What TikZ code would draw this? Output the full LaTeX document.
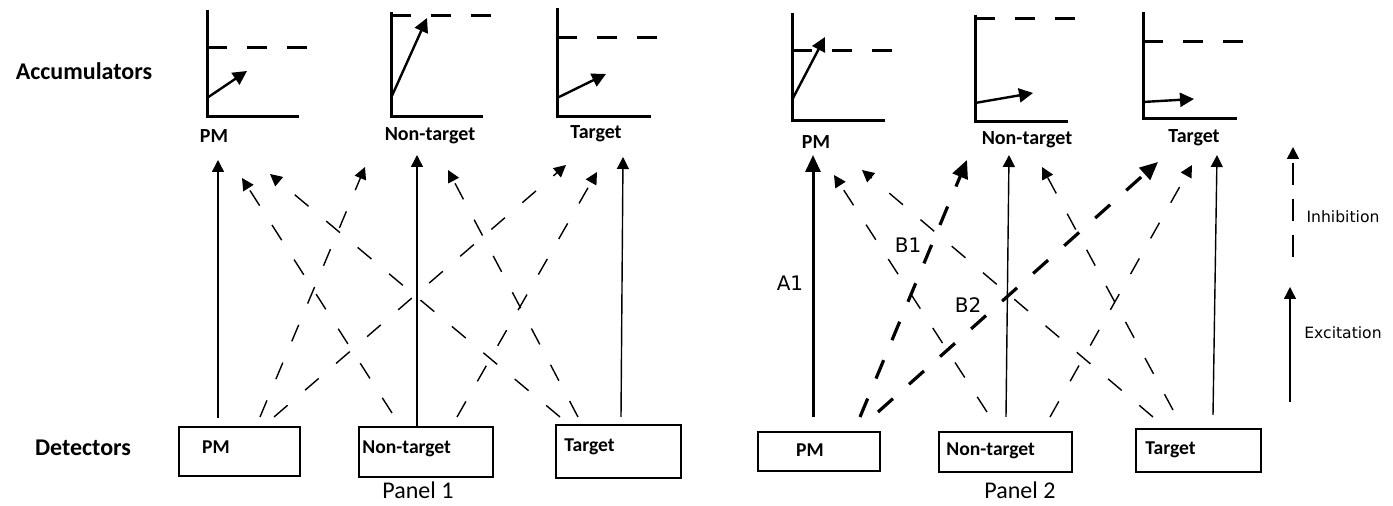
\documentclass[tikz,border=0pt]{standalone}
\usepackage{fontspec}
\setmainfont{Carlito}
\newfontfamily\labelfont{DejaVu Sans}
\usetikzlibrary{arrows.meta}

% one accumulator chart: axis x, axis top, axis bottom, axis right end,
% threshold y, threshold right end, growth start y, growth end x, growth end y
\newcommand\accumchart[9]{%
  \draw[axisline] (#1,#2) -- (#1,#3) -- (#4,#3);
  \draw[threshold] (#1,#5) -- (#6,#5);
  \draw[growth] (#1,#7) -- (#8,#9);
}

\begin{document}
\begin{tikzpicture}[x=0.5pt,y=-0.5pt,
  axisline/.style={line width=1.5pt, line join=miter},
  threshold/.style={line width=1.5pt, dash pattern=on 10pt off 10pt},
  growth/.style={line width=1.2pt, -{Triangle[length=7pt,width=7pt]}},
  excite/.style={line width=0.7pt, -{Triangle[length=6pt,width=6pt]}},
  inhibit/.style={excite, dash pattern=on 9pt off 11.5pt},
  exciteB/.style={line width=1.5pt, -{Triangle[length=8.5pt,width=7.5pt]}},
  inhibitB/.style={line width=1.6pt, dash pattern=on 10pt off 10.8pt, -{Triangle[length=9pt,width=8pt]}},
  keydash/.style={line width=0.8pt, dash pattern=on 11pt off 7pt, -{Triangle[length=6pt,width=6pt]}},
  detector/.style={draw, line width=0.8pt, inner sep=0pt},
  dettext/.style={font=\bfseries\fontsize{9.8}{11}\selectfont, inner sep=0pt},
  acclabel/.style={font=\bfseries\fontsize{10}{12}\selectfont, inner sep=0pt},
  rowlabel/.style={font=\bfseries\fontsize{12}{14}\selectfont, inner sep=0pt},
  panellabel/.style={font=\fontsize{12}{14}\selectfont, inner sep=0pt},
  pathlabel/.style={font=\labelfont\fontsize{10}{12}\selectfont, inner sep=0pt},
  keylabel/.style={font=\labelfont\fontsize{7.8}{9}\selectfont, inner sep=0pt},
]
\useasboundingbox (0,0) rectangle (1393,506);

% row titles
\node[rowlabel] (accrow) at (84,71) {Accumulators};
\node[rowlabel] (detrow) at (83,448) {Detectors};

% ---------------- accumulators ----------------
\accumchart{207}{10}{117}{299}{48}{307}{98}{247}{71}
\accumchart{391}{12}{117}{483}{16}{492}{98}{427}{18}
\accumchart{557}{8}{117}{651}{38}{659}{98}{606}{74}
\accumchart{792}{13}{121}{885}{51}{893}{100}{825}{37}
\accumchart{975}{15}{122}{1068}{19}{1077}{103}{1033}{93}
\accumchart{1143}{12}{119}{1237}{42}{1245}{102}{1194}{99}

\node[acclabel, anchor=mid] (acc1pm) at (214,138) {PM};
\node[acclabel, anchor=mid] (acc1nt) at (430,136) {Non-target};
\node[acclabel, anchor=mid] (acc1t)  at (596,134) {Target};
\node[acclabel, anchor=mid] (acc2pm) at (816,144) {PM};
\node[acclabel, anchor=mid] (acc2nt) at (1027,140) {Non-target};
\node[acclabel, anchor=mid] (acc2t)  at (1194,138) {Target};

% ---------------- detectors ----------------
\node[detector, minimum width=60.5pt, minimum height=24.5pt] (det1pm) at (239.5,451.5) {};
\node[detector, minimum width=67pt,   minimum height=25pt]   (det1nt) at (426,452) {};
\node[detector, minimum width=62.5pt, minimum height=26.5pt] (det1t)  at (618.5,451.5) {};
\node[detector, line width=1pt, minimum width=61pt,   minimum height=19.5pt] (det2pm) at (819,451.5) {};
\node[detector, line width=1pt, minimum width=66.5pt, minimum height=20pt]   (det2nt) at (1005.5,452) {};
\node[detector, line width=1pt, minimum width=62.5pt, minimum height=21.5pt] (det2t)  at (1198.5,450.5) {};

\node[dettext, anchor=mid] at (216,449) {PM};
\node[dettext, anchor=mid west] at (362,449) {Non-target};
\node[dettext, anchor=mid west] at (564,447) {Target};
\node[dettext, anchor=mid] at (810,452) {PM};
\node[dettext, anchor=mid west] at (946,451) {Non-target};
\node[dettext, anchor=mid west] at (1145,450) {Target};

\node[panellabel] (panel1) at (418,490) {Panel 1};
\node[panellabel] (panel2) at (1020,490) {Panel 2};

% ---------------- panel 1 connections ----------------
\coordinate (s1pmA) at (218,418);  \coordinate (e1pmA) at (218,160);
\coordinate (s1pmB) at (260,417);  \coordinate (e1ntB) at (365,167);
\coordinate (s1pmC) at (274,417);  \coordinate (e1tB)  at (566,165);
\coordinate (s1ntB) at (392,413);  \coordinate (e1pmB) at (242,178);
\coordinate (s1ntA) at (417,427);  \coordinate (e1ntA) at (417,155);
\coordinate (s1ntC) at (457,417);  \coordinate (e1tC)  at (597,172);
\coordinate (s1tB)  at (560,417);  \coordinate (e1pmC) at (270,174);
\coordinate (s1tC)  at (578,417);  \coordinate (e1ntC) at (448,170);
\coordinate (s1tA)  at (621,417);  \coordinate (e1tA)  at (623,157);

\draw[excite]  (s1pmA) -- (e1pmA);
\draw[inhibit] (s1pmB) -- (e1ntB);
\draw[inhibit] (s1pmC) -- (e1tB);
\draw[inhibit] (s1ntB) -- (e1pmB);
\draw[excite]  (s1ntA) -- (e1ntA);
\draw[inhibit] (s1ntC) -- (e1tC);
\draw[inhibit] (s1tB)  -- (e1pmC);
\draw[inhibit] (s1tC)  -- (e1ntC);
\draw[excite]  (s1tA)  -- (e1tA);

% ---------------- panel 2 connections ----------------
\coordinate (s2pmA) at (813,417);  \coordinate (e2pmA) at (813,155);
\coordinate (s2pmB) at (860,417);  \coordinate (e2ntB) at (967,160);
\coordinate (s2pmC) at (878,412);  \coordinate (e2tB)  at (1158,162);
\coordinate (s2ntB) at (987,412);  \coordinate (e2pmB) at (834,175);
\coordinate (s2ntA) at (1006,417); \coordinate (e2ntA) at (1009,155);
\coordinate (s2ntC) at (1050,417); \coordinate (e2tC)  at (1192,165);
\coordinate (s2tB)  at (1153,417); \coordinate (e2pmC) at (862,170);
\coordinate (s2tC)  at (1173,410); \coordinate (e2ntC) at (1042,167);
\coordinate (s2tA)  at (1213,415); \coordinate (e2tA)  at (1217,155);

\draw[exciteB]  (s2pmA) -- (e2pmA);
\draw[inhibitB] (s2pmB) -- (e2ntB);
\draw[inhibitB] (s2pmC) -- (e2tB);
\draw[inhibit]  (s2ntB) -- (e2pmB);
\draw[excite]   (s2ntA) -- (e2ntA);
\draw[inhibit]  (s2ntC) -- (e2tC);
\draw[inhibit]  (s2tB)  -- (e2pmC);
\draw[inhibit]  (s2tC)  -- (e2ntC);
\draw[excite]   (s2tA)  -- (e2tA);

\node[pathlabel] (lA1) at (790,283) {A1};
\node[pathlabel] (lB1) at (908,245) {B1};
\node[pathlabel] (lB2) at (968,305) {B2};

% ---------------- key ----------------
\coordinate (kinS) at (1293,257); \coordinate (kinE) at (1293,147);
\coordinate (kexS) at (1290,402); \coordinate (kexE) at (1290,287);
\draw[keydash] (kinS) -- (kinE);
\draw[excite]  (kexS) -- (kexE);
\node[keylabel] (kin) at (1343,217) {Inhibition};
\node[keylabel] (kex) at (1343,333) {Excitation};
\end{tikzpicture}
\end{document}
